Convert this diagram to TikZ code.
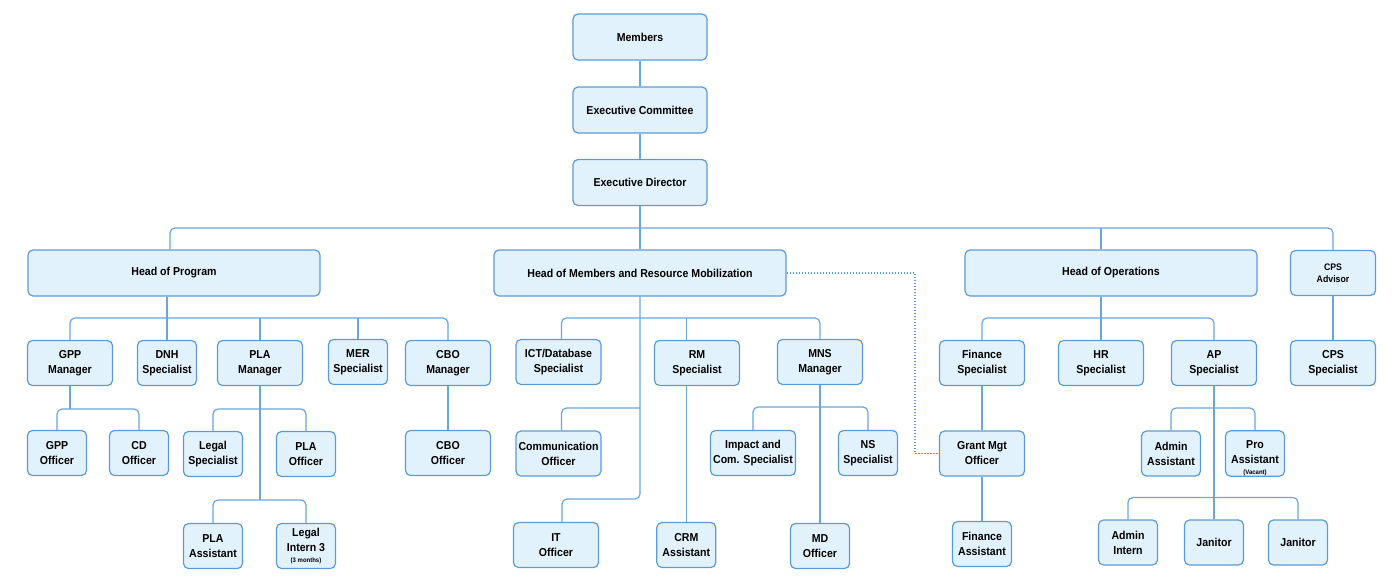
\documentclass[tikz,border=0pt]{standalone}
\usepackage{fontspec}
\setmainfont{Liberation Sans}[FakeStretch=0.92]
\definecolor{boxline}{HTML}{5B9BD5}
\definecolor{boxfill}{HTML}{E2F2FC}
\definecolor{linkline}{HTML}{6AA6DA}
\begin{document}
\begin{tikzpicture}[x=1pt,y=-1pt,
    box/.style={draw=boxline,fill=boxfill,line width=1.2pt,rounded corners=5pt,
      align=center,inner sep=0pt,minimum width=85,minimum height=45,
      font=\bfseries\fontsize{11.5}{15}\selectfont},
    slimbox/.style={box,minimum width=59},
    topbox/.style={box,minimum width=134,minimum height=46},
    widebox/.style={box,minimum width=292,minimum height=46},
    conn/.style={draw=linkline,line width=1.2pt,rounded corners=5pt},
    dotlink/.style={draw=boxline,line width=1.6pt,dash pattern=on 1.6pt off 1.4pt}]
        \useasboundingbox (0,0) rectangle (1400,587);
        \node[topbox] at (640,37)    (mem) {Members};
        \node[topbox] at (640,110)   (ec)  {Executive Committee};
        \node[topbox] at (640,182.5) (ed)  {Executive Director};
        \node[widebox] at (174,273)  (hop) {Head of Program};
        \node[widebox] at (640,273)  (hom) {Head of Members and Resource Mobilization};
        \node[widebox] at (1111,273) (hoo) {Head of Operations};
        \node[box,font=\bfseries\fontsize{9.5}{11.5}\selectfont] at (1333,273) (cpsa) {CPS\\Advisor};
        \node[box]     at (70,363)   (gppm) {GPP\\Manager};
        \node[slimbox] at (167,363)  (dnh)  {DNH\\Specialist};
        \node[box]     at (260,363)  (plam) {PLA\\Manager};
        \node[slimbox] at (358,362)  (mer)  {MER\\Specialist};
        \node[box]     at (448,363)  (cbom) {CBO\\Manager};
        \node[box]     at (558.5,362) (icts) {ICT/Database\\Specialist};
        \node[box]     at (697,363)  (rms)  {RM\\Specialist};
        \node[box]     at (820,362)  (mnsm) {MNS\\Manager};
        \node[box]     at (982,363)  (fins) {Finance\\Specialist};
        \node[box]     at (1101,363) (hrs)  {HR\\Specialist};
        \node[box]     at (1214,363) (aps)  {AP\\Specialist};
        \node[box]     at (1333,363) (cpss) {CPS\\Specialist};
        \node[slimbox] at (57,453)   (gppo) {GPP\\Officer};
        \node[slimbox] at (139,453)  (cdo)  {CD\\Officer};
        \node[slimbox] at (213,454)  (legs) {Legal\\Specialist};
        \node[slimbox] at (306,454)  (plao) {PLA\\Officer};
        \node[box]     at (448,453)  (cboo) {CBO\\Officer};
        \node[box]     at (558.5,453.5) (como) {Communication\\Officer};
        \node[box]     at (753,453)  (impc) {Impact and\\Com. Specialist};
        \node[slimbox] at (868,453)  (nss)  {NS\\Specialist};
        \node[box]     at (982,453.5) (gmo) {Grant Mgt\\Officer};
        \node[slimbox] at (1171,453.5) (adma) {Admin\\Assistant};
        \node[slimbox] at (1255,453.5) (proa) {\rule{0pt}{18pt}Pro\\Assistant\\[-4pt]{\fontsize{6.5}{7}\selectfont (Vacant)}};
        \node[slimbox] at (213,546)  (plaa) {PLA\\Assistant};
        \node[slimbox] at (306,546)  (lint) {Legal\\Intern 3\\[-4pt]{\fontsize{6.5}{7}\selectfont (3 months)}};
        \node[box]     at (556,545)  (ito)  {IT\\Officer};
        \node[slimbox] at (686.3,545) (crm) {CRM\\Assistant};
        \node[slimbox] at (820,546)  (mdo)  {MD\\Officer};
        \node[slimbox] at (982,544)  (fina) {Finance\\Assistant};
        \node[slimbox] at (1128,542.5) (admi) {Admin\\Intern};
        \node[slimbox] at (1214,542.5) (jan1) {Janitor};
        \node[slimbox] at (1298,542.5) (jan2) {Janitor};
        \coordinate (b0) at (640,228);
        \coordinate (b1) at (167,318);
        \coordinate (b2) at (70,409);
        \coordinate (b3) at (260,409);
        \coordinate (b4) at (260,500);
        \coordinate (m1) at (640,318);
        \coordinate (m2) at (640,408);
        \coordinate (m3) at (640,499);
        \coordinate (n1) at (820,407);
        \coordinate (dj) at (915,273);
        \coordinate (o1) at (1101,318);
        \coordinate (a1) at (1214,408);
        \coordinate (a2) at (1214,497.5);
        \draw[conn] (mem) -- (ec);
        \draw[conn] (ec) -- (ed);
        \draw[conn] (ed) -- (hom);
        \draw[conn] ([xshift=-4pt]hop.north) |- (b0) -| (cpsa.north);
        \draw[conn] (hrs.north |- hoo.north) -- (hrs.north |- b0);
        \draw[conn] ([xshift=-7pt]hop.south) -- (dnh.north);
        \draw[conn] (gppm.north) |- (b1) -| (cbom.north);
        \draw[conn] (plam.north) -- (plam.north |- b1);
        \draw[conn] (mer.north) -- (mer.north |- b1);
        \draw[conn] (gppm) -- (b2);
        \draw[conn] (gppo.north) |- (b2) -| (cdo.north);
        \draw[conn] (plam) -- (b4);
        \draw[conn] (legs.north) |- (b3) -| (plao.north);
        \draw[conn] (plaa.north) |- (b4) -| (lint.north);
        \draw[conn] (cbom) -- (cboo);
        \draw[conn] (hom.south) -- (m3) -| ([xshift=6pt]ito.north);
        \draw[conn] (m2) -| ([xshift=3pt]como.north);
        \draw[conn] ([xshift=3pt]icts.north) |- (m1) -| (mnsm.north);
        \draw[conn] (crm.north |- m1) -- (crm.north |- rms.north);
        \draw[conn] (crm.north |- rms.south) -- (crm.north);
        \draw[conn] (mnsm) -- (mdo);
        \draw[conn] (impc.north) |- (n1) -| (nss.north);
        \draw[dotlink] (hom.east) -- (dj) |- (gmo.west);
        \draw[conn] (hrs.north |- hoo.south) -- (hrs);
        \draw[conn] (fins.north) |- (o1) -| (aps.north);
        \draw[conn] (fins) -- (gmo);
        \draw[conn] (gmo) -- (fina);
        \draw[conn] (aps) -- (jan1);
        \draw[conn] (adma.north) |- (a1) -| (proa.north);
        \draw[conn] (admi.north) |- (a2) -| (jan2.north);
        \draw[conn] (cpsa) -- (cpss);
      \end{tikzpicture}
\end{document}
